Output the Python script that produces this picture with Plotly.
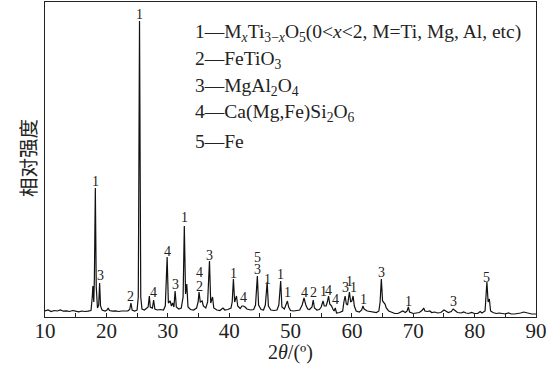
import plotly.graph_objects as go

# XRD pattern (2theta in degrees, relative intensity in arbitrary units)
two_theta = [
    10.0, 10.5, 11.0, 11.5, 12.0, 12.5, 13.0, 13.5, 14.0, 14.5, 15.0, 15.5, 16.0, 16.5, 17.0, 17.5,
    17.7, 17.8, 17.95, 18.05, 18.2, 18.35, 18.55, 18.75, 18.9, 19.05, 19.3, 19.8, 20.1, 20.3, 20.5,
    21.0, 21.5, 22.0, 22.5, 23.0, 23.5, 23.8, 24.0, 24.2, 24.6, 25.0, 25.2, 25.4, 25.6, 25.8, 26.2,
    26.6, 26.8, 27.0, 27.15, 27.5, 27.7, 27.9, 28.3, 28.8, 29.3, 29.6, 29.9, 30.1, 30.4, 30.6, 30.8,
    31.0, 31.2, 31.4, 31.8, 32.2, 32.5, 32.7, 32.9, 33.1, 33.3, 33.7, 34.2, 34.7, 34.95, 35.1, 35.3,
    35.6, 35.8, 36.2, 36.5, 36.8, 37.0, 37.3, 37.5, 38.0, 38.5, 39.0, 39.3, 39.8, 40.3, 40.5, 40.7,
    40.9, 41.2, 41.4, 41.8, 42.1, 42.3, 42.6, 42.9, 43.5, 44.0, 44.3, 44.6, 44.8, 45.2, 45.6, 45.9,
    46.2, 46.4, 46.8, 47.3, 47.8, 48.1, 48.4, 48.6, 49.0, 49.3, 49.5, 49.7, 50.0, 50.5, 51.0, 51.5,
    51.9, 52.2, 52.5, 52.8, 53.1, 53.5, 53.7, 53.9, 54.3, 54.7, 55.0, 55.3, 55.5, 55.8, 56.0, 56.2,
    56.4, 56.7, 56.9, 57.1, 57.3, 57.5, 58.0, 58.5, 58.7, 58.9, 59.1, 59.3, 59.6, 59.8, 60.0, 60.2,
    60.4, 60.7, 61.2, 61.6, 61.8, 62.0, 62.5, 63.0, 63.5, 64.0, 64.4, 64.6, 64.8, 65.0, 65.4, 65.6,
    66.0, 66.5, 67.0, 67.5, 68.0, 68.3, 68.7, 69.0, 69.2, 69.4, 70.0, 70.5, 71.0, 71.5, 71.7, 71.9,
    72.3, 72.7, 73.0, 73.5, 74.0, 74.5, 75.0, 75.3, 75.7, 76.2, 76.5, 76.8, 77.2, 77.8, 78.2, 78.6,
    79.0, 79.5, 80.0, 80.5, 80.9, 81.2, 81.7, 82.0, 82.2, 82.4, 82.6, 83.0, 83.5, 84.0, 84.5, 85.0,
    85.5, 86.0, 86.5, 87.0, 87.5, 88.0, 88.4, 88.8, 89.3, 90.0,
]
intensity = [
    60, 70, 55, 65, 60, 70, 58, 62, 55, 65, 58, 52, 60, 55, 58, 65,
    200, 310, 150, 400, 1290, 300, 90, 120, 340, 110, 70, 60, 70, 90, 65,
    58, 62, 55, 60, 58, 62, 75, 140, 70, 60, 70, 200, 2960, 200, 80, 70,
    90, 100, 210, 100, 90, 170, 80, 70, 75, 70, 110, 600, 140, 160, 110, 140,
    100, 260, 100, 80, 90, 200, 910, 230, 330, 100, 75, 70, 90, 150, 250, 150,
    160, 110, 90, 150, 560, 140, 200, 90, 70, 65, 90, 70, 75, 90, 150, 380,
    150, 210, 110, 85, 110, 110, 100, 80, 70, 75, 120, 410, 120, 75, 70, 120,
    350, 110, 70, 65, 70, 120, 360, 100, 80, 120, 160, 100, 65, 60, 62, 70,
    120, 190, 120, 80, 75, 100, 170, 90, 70, 75, 100, 160, 110, 110, 150, 210,
    130, 110, 80, 60, 90, 40, 45, 60, 150, 210, 130, 120, 250, 150, 160, 210,
    110, 60, 50, 70, 110, 80, 60, 55, 50, 45, 60, 150, 380, 160, 130, 90,
    60, 45, 35, 35, 50, 60, 45, 60, 100, 50, 35, 40, 45, 70, 90, 60,
    55, 60, 45, 50, 40, 45, 70, 60, 45, 55, 80, 65, 45, 40, 50, 40,
    35, 45, 35, 35, 55, 40, 60, 350, 150, 180, 60, 45, 35, 40, 35, 30,
    40, 30, 30, 32, 40, 50, 45, 35, 30, 30,
]

# Phase labels above peaks: position, height, label
label_x = [18.2, 19.0, 24.0, 25.4, 27.7, 29.9, 31.2, 32.7, 35.1, 35.1, 36.8, 40.7, 42.3,
           44.6, 44.6, 46.2, 48.3, 49.5, 52.2, 53.7, 55.3, 56.2, 57.4, 58.9, 59.6, 60.3,
           61.9, 64.8, 69.2, 76.6, 82.0]
label_y = [1360, 420, 210, 3030, 250, 660, 330, 1000, 450, 310, 620, 440, 200,
           600, 480, 380, 430, 250, 250, 250, 260, 270, 180, 300, 360, 300,
           180, 450, 160, 160, 400]
label_text = ["1", "3", "2", "1", "4", "4", "3", "1", "4", "2", "3", "1", "4",
              "5", "3", "1", "1", "1", "4", "2", "1", "4", "4", "3", "1", "1",
              "1", "3", "1", "3", "5"]

legend_lines = [
    "1—M<sub><i>x</i></sub>Ti<sub>3−<i>x</i></sub>O<sub>5</sub>(0&lt;<i>x</i>&lt;2, M=Ti, Mg, Al, etc)",
    "2—FeTiO<sub>3</sub>",
    "3—MgAl<sub>2</sub>O<sub>4</sub>",
    "4—Ca(Mg,Fe)Si<sub>2</sub>O<sub>6</sub>",
    "5—Fe",
]

SERIF = "'Liberation Serif', 'Times New Roman', 'DejaVu Serif', serif"

fig = go.Figure()
fig.add_trace(go.Scatter(x=two_theta, y=intensity, mode="lines",
                         line=dict(color="#111", width=1.2), showlegend=False,
                         hoverinfo="skip"))

annotations = []
for lx, ly, lt in zip(label_x, label_y, label_text):
    annotations.append(dict(x=lx, y=ly, xref="x", yref="y", text=lt, showarrow=False,
                            font=dict(family=SERIF, size=14, color="#222"),
                            xanchor="center", yanchor="middle"))

legend_py = [33, 60, 87, 113, 141]
for txt, py in zip(legend_lines, legend_py):
    annotations.append(dict(x=(193 - 45) / 491, y=(317 - py) / 315, xref="paper", yref="paper",
                            text=txt, showarrow=False, xanchor="left", yanchor="middle",
                            font=dict(family=SERIF, size=19.5, color="#222")))

annotations.append(dict(x=(27 - 45) / 491, y=(317 - 158) / 315, xref="paper", yref="paper",
                        text="相对强度", textangle=-90, showarrow=False,
                        xanchor="center", yanchor="middle",
                        font=dict(family="Noto Sans CJK SC", size=19.5, color="#222")))
annotations.append(dict(x=0.5, y=(317 - 352) / 315, xref="paper", yref="paper",
                        text="2<i>θ</i>/(º)", showarrow=False,
                        xanchor="center", yanchor="middle",
                        font=dict(family=SERIF, size=20, color="#222")))

fig.update_layout(
    width=560, height=368,
    margin=dict(l=45, r=24, t=2, b=51),
    paper_bgcolor="white", plot_bgcolor="white",
    annotations=annotations,
    showlegend=False,
    font=dict(family=SERIF, color="#222"),
)
fig.update_xaxes(range=[10, 90], dtick=10, tick0=10, ticks="inside", ticklen=4,
                 tickcolor="#222", tickwidth=1,
                 minor=dict(dtick=5, ticks="inside", ticklen=4, tickcolor="#222"),
                 showline=True, linecolor="#222", linewidth=1.2, mirror=True,
                 showgrid=False, zeroline=False,
                 ticklabelposition="outside", ticklabelstandoff=-5,
                 tickfont=dict(family=SERIF, size=21, color="#222"))
fig.update_yaxes(range=[0, 3150], showticklabels=False, ticks="",
                 showline=True, linecolor="#222", linewidth=1.2, mirror=True,
                 showgrid=False, zeroline=False)

fig.write_html("out.html", config={"displayModeBar": False},
               post_script="document.body.style.margin='0px';")
